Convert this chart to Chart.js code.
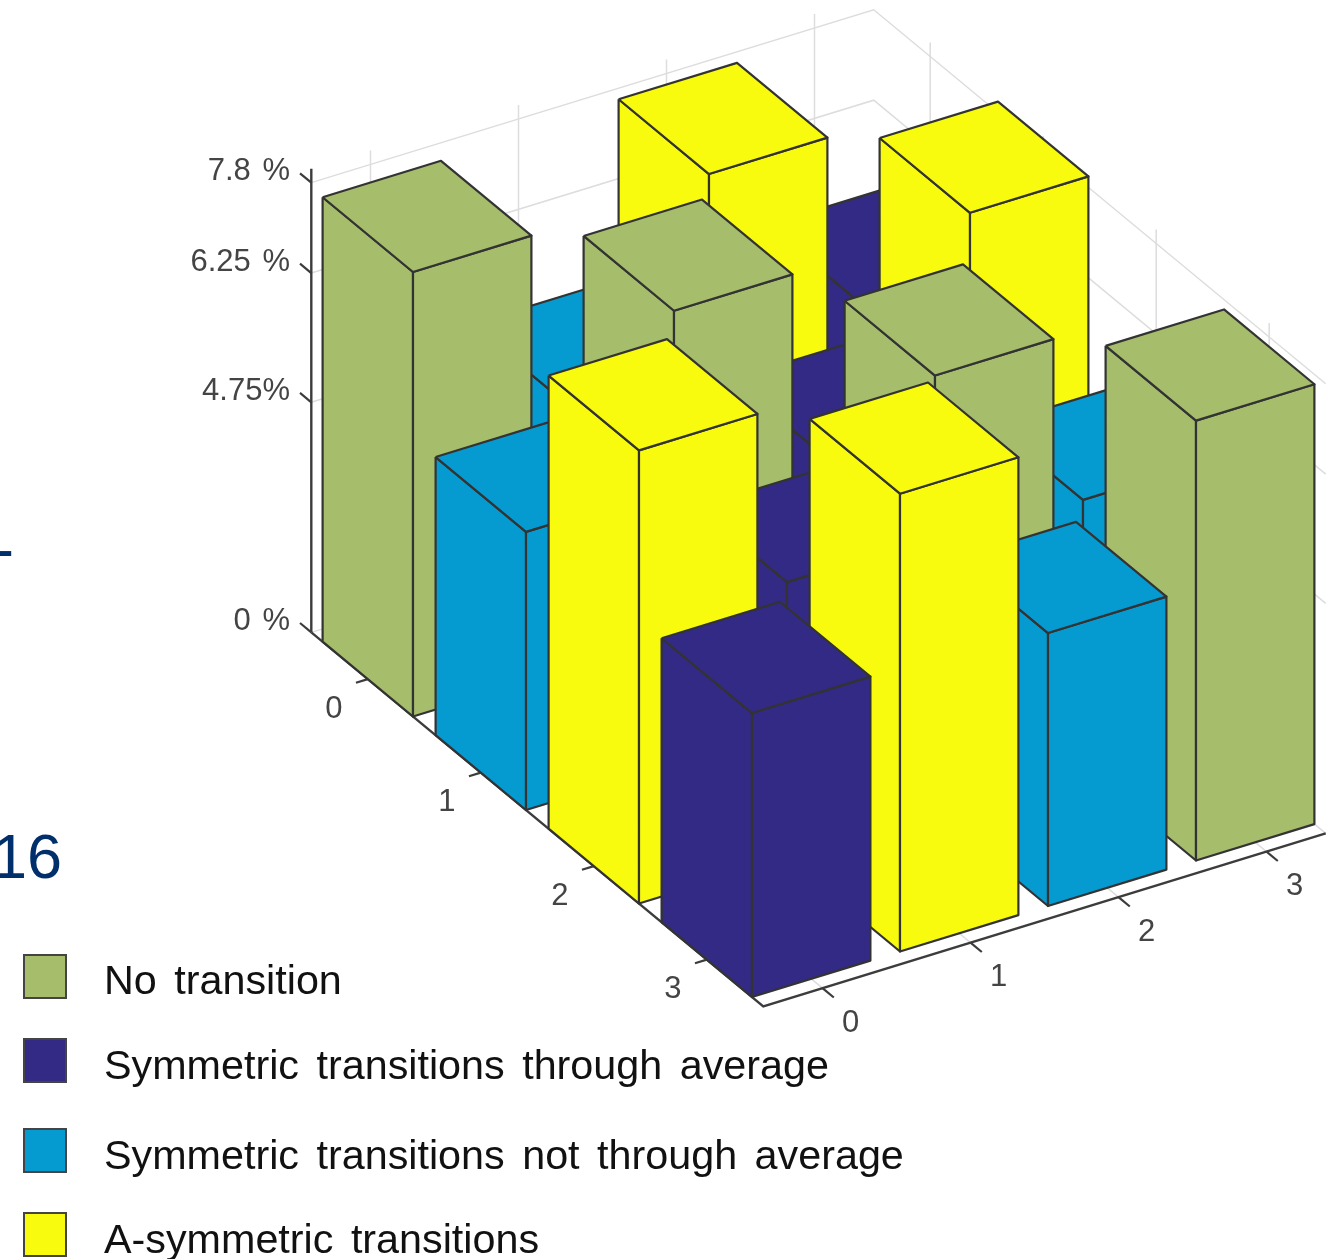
<!DOCTYPE html>
<html><head><meta charset="utf-8">
<style>html,body{margin:0;padding:0;background:#fff}#w{width:1335px;height:1259px;position:relative}</style>
<script src="https://cdn.jsdelivr.net/npm/chart.js@4"></script>
</head><body><div id="w"><canvas id="c"></canvas></div>
<script>
const seriesNames = ['No transition','Symmetric transitions through average','Symmetric transitions not through average','A-symmetric transitions'];
const seriesColors = ['#A6BD6C','#332A86','#069BD0','#F9FB0E'];
const rowLabels = ['0','1','2','3'];
const colLabels = ['0','1','2','3'];
const zTickValues = [0,3.97,6.2,7.76];
const zTickLabels = ['0 %','4.75%','6.25 %','7.8 %'];
const row0Values = [7.67,4.69,7.79,4.83];
const row1Values = [4.80,7.83,4.57,7.95];
const row2Values = [7.82,4.76,7.54,4.61];
const row3Values = [4.90,7.90,4.71,7.59];
const row0Series = [0,2,3,1];
const row1Series = [2,0,1,3];
const row2Series = [3,1,0,2];
const row3Series = [1,3,2,0];
const values = [row0Values,row1Values,row2Values,row3Values];
const kinds = [row0Series,row1Series,row2Series,row3Series];

// Oblique view of the 3-D axes, expressed in the units of the flat x/y scales.
const view = {ox:427, oy:660.9, rx:113, ry:93.5, cx:148, cy:-45.5, z:57.95};
const rLim = [-0.5,3.5], cLim = [-0.4,3.4], zTop = 8, half = 0.4;
const P = (r,c,z) => ({x:view.ox+view.rx*r+view.cx*c, y:view.oy+view.ry*r+view.cy*c-view.z*z});

const grid = '#dddddd', axis = '#3c3c3c', edge = '#333333';
const ds = [];
function line(pts,color,w){ds.push({label:'axis',data:pts,showLine:true,fill:false,borderColor:color,borderWidth:w,pointRadius:0,tension:0,clip:false});}
function face(pts,color,label){ds.push({label,data:[...pts,pts[0]],showLine:true,fill:'shape',backgroundColor:color,borderColor:edge,borderWidth:2.2,borderJoinStyle:'round',pointRadius:0,tension:0,clip:false});}

// grid on the walls and the floor
zTickValues.forEach(z=>line([P(rLim[0],cLim[0],z),P(rLim[0],cLim[1],z),P(rLim[1],cLim[1],z)],grid,1.5));
[0,1,2,3].forEach(c=>{line([P(rLim[0],c,0),P(rLim[0],c,zTop)],grid,1.5);line([P(rLim[0],c,0),P(rLim[1],c,0)],grid,1.5);});
[0,1,2,3].forEach(r=>{line([P(r,cLim[1],0),P(r,cLim[1],zTop)],grid,1.5);line([P(r,cLim[0],0),P(r,cLim[1],0)],grid,1.5);});

// axes and ticks
line([P(rLim[0],cLim[0],0),P(rLim[0],cLim[0],zTop)],axis,2.4);
line([P(rLim[0],cLim[0],0),P(rLim[1],cLim[0],0),P(rLim[1],cLim[1],0)],axis,2.4);
zTickValues.forEach(z=>line([P(rLim[0],cLim[0],z),P(rLim[0]-0.1,cLim[0],z)],axis,2.2));
rowLabels.forEach((_,r)=>line([P(r,cLim[0],0),P(r,cLim[0]-0.08,0)],axis,2.2));
colLabels.forEach((_,c)=>line([P(rLim[1],c,0),P(rLim[1]+0.1,c,0)],axis,2.2));

// bars, back to front
for(let r=0;r<4;r++){for(let c=3;c>=0;c--){
  const z=values[r][c], col=seriesColors[kinds[r][c]], name=seriesNames[kinds[r][c]];
  const r0=r-half,r1=r+half,c0=c-half,c1=c+half;
  face([P(r0,c0,z),P(r1,c0,z),P(r1,c0,0),P(r0,c0,0)],col,name);
  face([P(r1,c0,z),P(r1,c1,z),P(r1,c1,0),P(r1,c0,0)],col,name);
  face([P(r0,c0,z),P(r0,c1,z),P(r1,c1,z),P(r1,c0,z)],col,name);
}}
ds.reverse(); // Chart.js paints the first dataset last

const F = 'Liberation Sans, Arial, sans-serif';
const textPlugin = {id:'text3d',afterDraw(ch){
  const g=ch.ctx, sx=ch.scales.x, sy=ch.scales.y, px=p=>sx.getPixelForValue(p.x), py=p=>sy.getPixelForValue(p.y);
  g.save();
  // cut-off text at the slide's left edge
  g.fillStyle='#002F6C'; g.font='63px '+F; g.textAlign='right'; g.textBaseline='alphabetic';
  g.fillText('16',sx.getPixelForValue(62),sy.getPixelForValue(878));
  g.fillText('-',sx.getPixelForValue(14),sy.getPixelForValue(570));
  // tick labels
  g.fillStyle='#444444'; g.font='31px '+F; g.textBaseline='middle'; g.wordSpacing='3px';
  g.textAlign='right';
  zTickValues.forEach((z,i)=>{const p=P(rLim[0],cLim[0],z);g.fillText(zTickLabels[i],sx.getPixelForValue(290),py(p)-11);});
  g.textAlign='center';
  rowLabels.forEach((t,r)=>{const p=P(r,cLim[0],0);g.fillText(t,px(p)-34,py(p)+30);});
  colLabels.forEach((t,c)=>{const p=P(rLim[1],c,0);g.fillText(t,px(p)+28,py(p)+35);});
  // legend
  const boxTop=[955,1039,1129,1213], base=[994,1079,1169,1253];
  g.textAlign='left'; g.textBaseline='alphabetic'; g.font='41.3px '+F; g.wordSpacing='6px';
  seriesNames.forEach((n,i)=>{
    g.fillStyle=seriesColors[i]; g.strokeStyle='#444444'; g.lineWidth=2;
    g.fillRect(24,boxTop[i],42,43); g.strokeRect(24,boxTop[i],42,43);
    g.fillStyle='#111111'; g.fillText(n,104,base[i]);
  });
  g.restore();
}};

new Chart(document.getElementById('c'),{
  type:'scatter',
  data:{datasets:ds},
  plugins:[textPlugin],
  options:{
    responsive:true, maintainAspectRatio:false, animation:false,
    layout:{padding:0},
    plugins:{legend:{display:false},tooltip:{enabled:false},title:{display:false}},
    scales:{
      x:{type:'linear',min:0,max:1335,display:false},
      y:{type:'linear',min:0,max:1259,reverse:true,display:false}
    }
  }
});
</script></body></html>
